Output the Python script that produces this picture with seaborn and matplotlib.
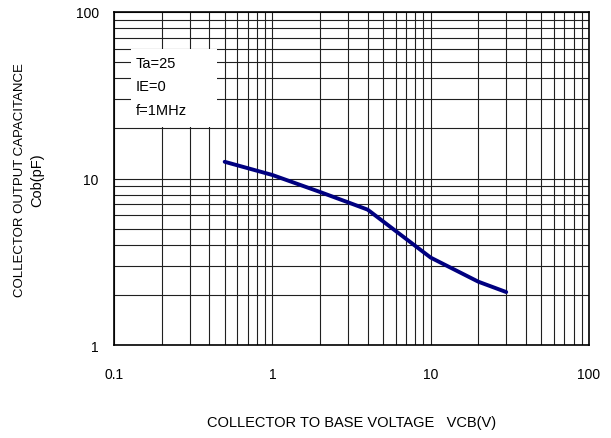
import numpy as np
import pandas as pd
import seaborn as sns
import matplotlib
matplotlib.use("Agg")
import matplotlib.pyplot as plt
from matplotlib.ticker import LogLocator, FixedLocator, FixedFormatter, NullFormatter

vcb = [0.5, 1, 2, 3, 4, 10, 20, 30]
cob = [12.6, 10.5, 8.3, 7.2, 6.5, 3.35, 2.4, 2.08]
x_ticks = [0.1, 1, 10, 100]
x_tick_labels = ["0.1", "1", "10", "100"]
y_ticks = [1, 10, 100]
y_tick_labels = ["1", "10", "100"]
conditions = ["Ta=25", "IE=0", "f=1MHz"]

sns.set_style("white")
plt.rcParams["font.family"] = ["Liberation Sans", "DejaVu Sans"]
plt.rcParams["text.color"] = "black"

df = pd.DataFrame({"VCB": vcb, "Cob": cob})

fig = plt.figure(figsize=(6.11, 4.39), dpi=100)
ax = fig.add_axes([0.1866, 0.2118, 0.7774, 0.7586])

sns.lineplot(data=df, x="VCB", y="Cob", ax=ax, color="#000080", linewidth=2.8, zorder=5)

ax.set_xscale("log")
ax.set_yscale("log")
ax.set_xlim(0.1, 100)
ax.set_ylim(1, 100)

ax.xaxis.set_major_locator(FixedLocator(x_ticks))
ax.xaxis.set_major_formatter(FixedFormatter(x_tick_labels))
ax.yaxis.set_major_locator(FixedLocator(y_ticks))
ax.yaxis.set_major_formatter(FixedFormatter(y_tick_labels))
ax.xaxis.set_minor_locator(LogLocator(base=10, subs=np.arange(2, 10), numticks=20))
ax.yaxis.set_minor_locator(LogLocator(base=10, subs=np.arange(2, 10), numticks=20))
ax.xaxis.set_minor_formatter(NullFormatter())
ax.yaxis.set_minor_formatter(NullFormatter())

ax.grid(True, which="both", color="#202020", linewidth=0.8)
ax.tick_params(which="both", length=0, labelsize=10, colors="black")
ax.tick_params(axis="x", pad=16)
ax.tick_params(axis="y", pad=11)
for s in ax.spines.values():
    s.set_visible(True)
    s.set_color("black")
    s.set_linewidth(1.2)

ax.set_xlabel("COLLECTOR TO BASE VOLTAGE   VCB(V)", fontsize=10.5, labelpad=24,
              color="black")
ax.set_ylabel("")
fig.text(20 / 611, 1 - 180 / 439, "COLLECTOR OUTPUT CAPACITANCE", rotation=90,
         fontsize=9.5, ha="center", va="center")
fig.text(37 / 611, 1 - 180 / 439, "Cob(pF)", rotation=90, fontsize=10.5,
         ha="center", va="center")

# condition box
ax.add_patch(plt.Rectangle((0.036, 0.655), 0.181, 0.234, transform=ax.transAxes,
                           facecolor="white", edgecolor="none", zorder=3))
for txt, yy in zip(conditions, [0.847, 0.778, 0.706]):
    ax.text(0.046, yy, txt, transform=ax.transAxes, fontsize=10.5, va="center",
            ha="left", zorder=4)

fig.savefig("out.png", dpi=100)
